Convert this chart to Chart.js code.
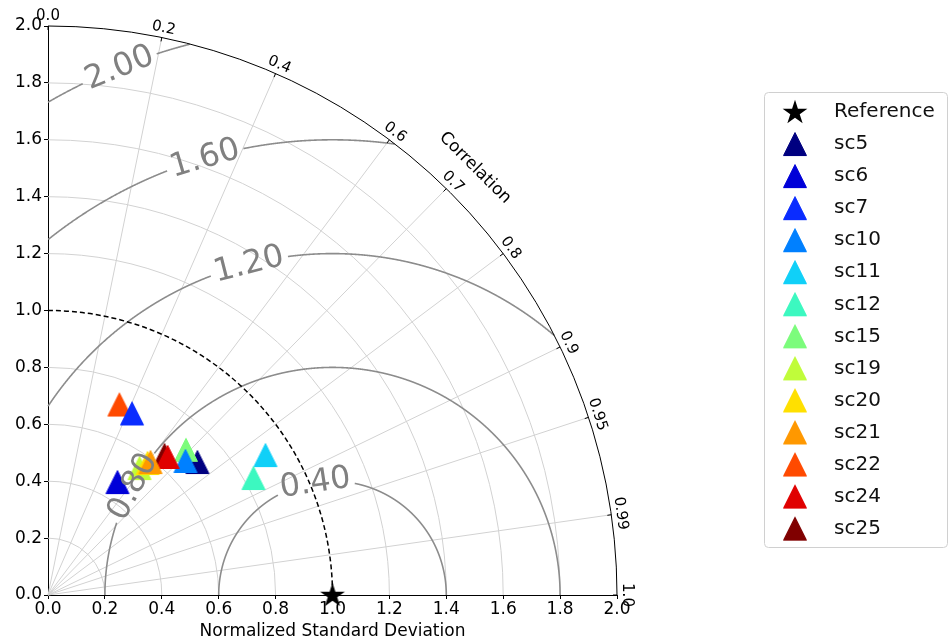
<!DOCTYPE html>
<html>
<head>
<meta charset="utf-8">
<script src="https://cdn.jsdelivr.net/npm/chart.js@4/dist/chart.umd.min.js"></script>
<style>
  html, body { margin: 0; padding: 0; background: #ffffff; }
  #wrap { width: 949px; height: 644px; }
</style>
</head>
<body>
<div id="wrap"><canvas id="c" width="949" height="644"></canvas></div>
<script>
// ---------------- DATA ----------------
const categories   = ['sc5','sc6','sc7','sc10','sc11','sc12','sc15','sc19','sc20','sc21','sc22','sc24','sc25'];
const stdValues    = [0.703, 0.466, 0.703, 0.675, 0.909, 0.831, 0.704, 0.550, 0.581, 0.590, 0.715, 0.642, 0.640];
const corrValues   = [0.747, 0.524, 0.420, 0.716, 0.841, 0.869, 0.689, 0.585, 0.602, 0.611, 0.351, 0.655, 0.640];
const refStd       = 1.0;
const stdTicks     = [0.0, 0.2, 0.4, 0.6, 0.8, 1.0, 1.2, 1.4, 1.6, 1.8, 2.0];
const corrTicks    = [0.0, 0.2, 0.4, 0.6, 0.7, 0.8, 0.9, 0.95, 0.99, 1.0];
const corrTickText = ['0.0','0.2','0.4','0.6','0.7','0.8','0.9','0.95','0.99','1.0'];
const rmsLevels    = [0.4, 0.8, 1.2, 1.6, 2.0];

// ---------------- STYLE ----------------
const seriesColors = ['#000080','#0000d8','#0a2cff','#0080ff','#10d0f8','#3cf8c0','#7cfc7c','#c0fc3a',
                      '#ffe000','#ff9800','#ff4a00','#e00000','#800000'];
const zLevel = [1, 2, 3, 8, 4, 5, 6, 6, 7, 9, 1, 9, 2];          // drawing stack (higher = on top)
const contourLabelAngleDeg = [98.7, 151.5, 104.2, 106.3, 112.0]; // where each RMS label sits on its circle
const FONT = '"DejaVu Sans", "Liberation Sans", sans-serif';

function triangleImage(color) {
  const c = document.createElement('canvas');
  c.width = 26; c.height = 26;
  const g = c.getContext('2d');
  g.beginPath();
  g.moveTo(13, 1.5); g.lineTo(24.5, 24.5); g.lineTo(1.5, 24.5); g.closePath();
  g.fillStyle = color; g.fill();
  g.strokeStyle = color; g.lineWidth = 1; g.stroke();
  return c;
}
function starImage(color) {
  const c = document.createElement('canvas');
  c.width = 28; c.height = 28;
  const g = c.getContext('2d');
  const cx = 14, cy = 14.8, R = 13, r = R * 0.382;
  g.beginPath();
  for (let i = 0; i < 10; i++) {
    const a = -Math.PI / 2 + i * Math.PI / 5;
    const rr = i % 2 === 0 ? R : r;
    const px = cx + rr * Math.cos(a), py = cy + rr * Math.sin(a);
    if (i === 0) g.moveTo(px, py); else g.lineTo(px, py);
  }
  g.closePath();
  g.fillStyle = color; g.fill();
  return c;
}

// polar (std, corr) -> cartesian through data values
const datasets = [{
  label: 'Reference',
  data: [{ x: refStd, y: 0 }],
  pointStyle: starImage('#000000'),
  pointRadius: 12,
  backgroundColor: '#000', borderColor: '#000',
  order: -100,
  clip: false
}];
categories.forEach((name, i) => {
  const s = stdValues[i], c = corrValues[i];
  datasets.push({
    label: name,
    data: [{ x: s * c, y: s * Math.sqrt(1 - c * c) }],
    pointStyle: triangleImage(seriesColors[i]),
    pointRadius: 12,
    backgroundColor: seriesColors[i], borderColor: seriesColors[i],
    order: -zLevel[i],
    clip: false
  });
});

const taylorPlugin = {
  id: 'taylor',
  beforeDatasetsDraw(chart) {
    const ctx = chart.ctx, xs = chart.scales.x, ys = chart.scales.y;
    const P = (a, b) => [xs.getPixelForValue(a), ys.getPixelForValue(b)];
    const [ox, oy] = P(0, 0);
    const rx = xs.getPixelForValue(1) - ox, ry = oy - ys.getPixelForValue(1);
    ctx.save();
    // std grid arcs
    ctx.strokeStyle = '#d2d2d2'; ctx.lineWidth = 1;
    stdTicks.forEach(r => {
      if (r <= 0 || r >= 2 || Math.abs(r - refStd) < 1e-9) return;
      ctx.beginPath(); ctx.ellipse(ox, oy, r * rx, r * ry, 0, -Math.PI / 2, 0); ctx.stroke();
    });
    // correlation radial lines
    corrTicks.forEach(c => {
      if (c <= 0 || c >= 1) return;
      const [ex, ey] = P(2 * c, 2 * Math.sqrt(1 - c * c));
      ctx.beginPath(); ctx.moveTo(ox, oy); ctx.lineTo(ex, ey); ctx.stroke();
    });
    // RMS contours with inline label gaps
    ctx.font = '32px ' + FONT;
    ctx.strokeStyle = '#8c8c8c'; ctx.lineWidth = 1.6;
    rmsLevels.forEach((R, i) => {
      const w = ctx.measureText(R.toFixed(2)).width;
      const phiL = contourLabelAngleDeg[i] * Math.PI / 180;
      const half = (w / 2 + 4) / (R * rx);
      ctx.beginPath();
      let pen = false;
      const N = 3000;
      for (let k = 0; k <= N; k++) {
        const phi = Math.PI * k / N;
        const dx = refStd + R * Math.cos(phi), dy = R * Math.sin(phi);
        const ok = dx >= -1e-9 && dy >= -1e-9 && dx * dx + dy * dy <= 4 + 1e-6 && Math.abs(phi - phiL) > half;
        if (ok) {
          const [X, Y] = P(dx, dy);
          if (!pen) { ctx.moveTo(X, Y); pen = true; } else ctx.lineTo(X, Y);
        } else pen = false;
      }
      ctx.stroke();
    });
    // reference std arc (dashed)
    ctx.setLineDash([5, 3]); ctx.strokeStyle = '#000'; ctx.lineWidth = 1.5;
    ctx.beginPath(); ctx.ellipse(ox, oy, refStd * rx, refStd * ry, 0, -Math.PI / 2, 0); ctx.stroke();
    ctx.setLineDash([]);
    // outer arc
    ctx.lineWidth = 1; ctx.strokeStyle = '#000';
    ctx.beginPath(); ctx.ellipse(ox, oy, 2 * rx, 2 * ry, 0, -Math.PI / 2, 0); ctx.stroke();
    // ticks on outer arc
    corrTicks.forEach(c => {
      const th = Math.acos(c);
      const [ax, ay] = P(2 * c, 2 * Math.sin(th));
      ctx.beginPath(); ctx.moveTo(ax, ay); ctx.lineTo(ax - 4 * Math.cos(th), ay + 4 * Math.sin(th)); ctx.stroke();
    });
    ctx.restore();
  },
  afterDatasetsDraw(chart) {
    const ctx = chart.ctx, xs = chart.scales.x, ys = chart.scales.y;
    const P = (a, b) => [xs.getPixelForValue(a), ys.getPixelForValue(b)];
    const [ox, oy] = P(0, 0);
    const rx = xs.getPixelForValue(1) - ox;
    ctx.save();
    // RMS labels
    ctx.font = '32px ' + FONT;
    ctx.fillStyle = '#808080'; ctx.textAlign = 'center'; ctx.textBaseline = 'middle';
    rmsLevels.forEach((R, i) => {
      const phi = contourLabelAngleDeg[i] * Math.PI / 180;
      const [cx, cy] = P(refStd + R * Math.cos(phi), R * Math.sin(phi));
      const [x1, y1] = P(refStd + R * Math.cos(phi + 0.01), R * Math.sin(phi + 0.01));
      const [x2, y2] = P(refStd + R * Math.cos(phi - 0.01), R * Math.sin(phi - 0.01));
      let ddx = x2 - x1, ddy = y2 - y1;
      if (ddx < 0) { ddx = -ddx; ddy = -ddy; }
      ctx.save(); ctx.translate(cx, cy); ctx.rotate(Math.atan2(ddy, ddx));
      ctx.fillText(R.toFixed(2), 0, 1);
      ctx.restore();
    });
    // correlation tick labels
    ctx.font = '15px ' + FONT;
    ctx.fillStyle = '#000'; ctx.textAlign = 'center'; ctx.textBaseline = 'bottom';
    corrTicks.forEach((c, i) => {
      const th = Math.acos(c);
      const [ax, ay] = P(2 * c, 2 * Math.sin(th));
      ctx.save();
      ctx.translate(ax + 2 * Math.cos(th), ay - 2 * Math.sin(th));
      ctx.rotate(Math.PI / 2 - th);
      ctx.fillText(corrTickText[i], 0, 0);
      ctx.restore();
    });
    // axis title for correlation
    ctx.font = '17px ' + FONT; ctx.textBaseline = 'middle';
    const th = Math.PI / 4, rr = 2 * rx + 35;
    ctx.save();
    ctx.translate(ox + rr * Math.cos(th), oy - rr * Math.sin(th));
    ctx.rotate(Math.PI / 2 - th);
    ctx.fillText('Correlation', 0, 0);
    ctx.restore();
    ctx.restore();
  },
  afterDraw(chart) {
    const ctx = chart.ctx;
    ctx.save();
    // legend box
    const bx = 764.5, by = 92.5, bw = 183, bh = 455, rad = 4;
    ctx.strokeStyle = '#d0d0d0'; ctx.lineWidth = 1; ctx.fillStyle = 'rgba(255,255,255,0.9)';
    ctx.beginPath();
    ctx.moveTo(bx + rad, by); ctx.lineTo(bx + bw - rad, by); ctx.arcTo(bx + bw, by, bx + bw, by + rad, rad);
    ctx.lineTo(bx + bw, by + bh - rad); ctx.arcTo(bx + bw, by + bh, bx + bw - rad, by + bh, rad);
    ctx.lineTo(bx + rad, by + bh); ctx.arcTo(bx, by + bh, bx, by + bh - rad, rad);
    ctx.lineTo(bx, by + rad); ctx.arcTo(bx, by, bx + rad, by, rad);
    ctx.closePath(); ctx.fill(); ctx.stroke();
    ctx.font = '20px ' + FONT; ctx.fillStyle = '#111'; ctx.textAlign = 'left'; ctx.textBaseline = 'middle';
    chart.data.datasets.forEach((ds, i) => {
      const y = 112 + i * 32.05;
      const img = ds.pointStyle;
      ctx.drawImage(img, 795 - img.width / 2, y - img.height / 2);
      ctx.fillStyle = '#111';
      ctx.fillText(ds.label, 834, y);
    });
    ctx.restore();
  }
};

const tickFont = { family: FONT, size: 17 };
new Chart(document.getElementById('c'), {
  type: 'scatter',
  data: { datasets },
  options: {
    responsive: false,
    animation: false,
    events: [],
    layout: { padding: { left: 0, top: 26, right: 332, bottom: 0 } },
    plugins: { legend: { display: false }, tooltip: { enabled: false }, title: { display: false } },
    scales: {
      x: {
        type: 'linear', min: 0, max: 2,
        afterFit(s) { s.height = 49; },
        ticks: { stepSize: 0.2, color: '#000', font: tickFont, padding: 0, maxRotation: 0, autoSkip: false,
                 callback: v => Number(v).toFixed(1) },
        grid: { display: true, drawOnChartArea: false, drawTicks: true, tickLength: 4, color: '#000' },
        border: { display: true, color: '#000', width: 1 },
        title: { display: true, text: 'Normalized Standard Deviation', color: '#000',
                 font: { family: FONT, size: 17 }, padding: { top: 0, bottom: 2 } }
      },
      y: {
        type: 'linear', min: 0, max: 2,
        afterFit(s) { s.width = 48; },
        ticks: { stepSize: 0.2, color: '#000', font: tickFont, padding: 2, autoSkip: false,
                 callback: v => Number(v).toFixed(1) },
        grid: { display: true, drawOnChartArea: false, drawTicks: true, tickLength: 4, color: '#000' },
        border: { display: true, color: '#000', width: 1 }
      }
    }
  },
  plugins: [taylorPlugin]
});
</script>
</body>
</html>
